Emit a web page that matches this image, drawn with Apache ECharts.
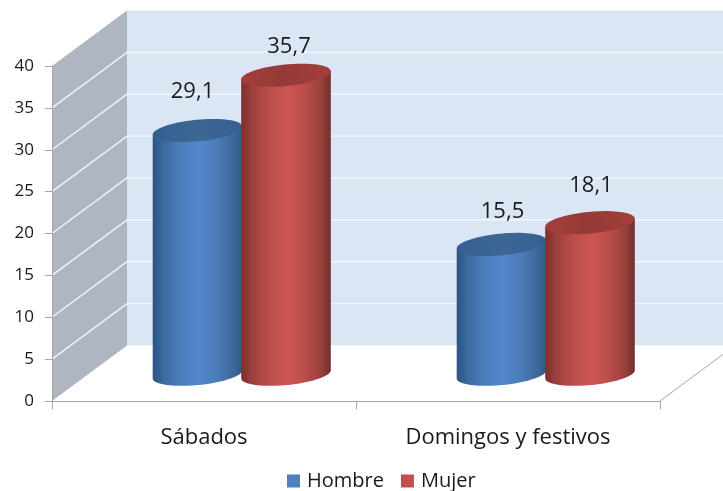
<!DOCTYPE html>
<html>
<head>
<meta charset="utf-8">
<style>html,body{margin:0;padding:0;background:#fff}#c{width:723px;height:491px}</style>
<script src="https://cdn.jsdelivr.net/npm/echarts@6/dist/echarts.min.js"></script>
</head>
<body>
<div id="c"></div>
<script>
const categories = ['Sábados', 'Domingos y festivos'];
const hombre = [29.1, 15.5];
const mujer = [35.7, 18.1];
const yTicks = [0, 5, 10, 15, 20, 25, 30, 35, 40];

const FONT = '"Open Sans", sans-serif';
const TEXT = '#1a1a1a';
const DEPTH_X = 75, DEPTH_Y = 55.5;      // projected depth of the 3D box
const RX = 45, RY = 10.8, TILT = 5.5 * Math.PI / 180;
const fmt = v => String(v).replace('.', ',');

function ellipsePt(cx, cy, t) {
  const c = Math.cos(t) * RX, s = Math.sin(t) * RY;
  return [cx + c * Math.cos(TILT) + s * Math.sin(TILT),
          cy - c * Math.sin(TILT) + s * Math.cos(TILT)];
}
function hGrad(stops) {
  return { type: 'linear', x: 0, y: 0, x2: 1, y2: 0, global: false,
    colorStops: stops.map(s => ({ offset: s[0], color: s[1] })) };
}

const palettes = {
  Hombre: {
    body: [[0, '#2a5482'], [0.12, '#3b6a9f'], [0.3, '#4a7cb8'], [0.52, '#5387cb'], [0.72, '#4a7cb6'], [0.9, '#3c6a9e'], [1, '#31598a']],
    top: [[0, '#34608f'], [0.5, '#3d6695'], [1, '#35608f']]
  },
  Mujer: {
    body: [[0, '#7c2f2d'], [0.12, '#9c403d'], [0.3, '#b94d4a'], [0.52, '#cd5552'], [0.72, '#ba4d4a'], [0.9, '#96403c'], [1, '#732d2b']],
    top: [[0, '#a33f3c'], [0.5, '#953a37'], [1, '#a33f3c']]
  }
};
// small per-label nudges, in pixels, relative to the top of each cylinder
const labelLift = { Hombre: [39, 33], Mujer: [29, 37] };
const labelShift = { Hombre: [-5, 1], Mujer: [3, 1] };
const seriesShift = { Hombre: -44, Mujer: 44.5 };

function cylinderSeries(name, values, color) {
  return {
    name, type: 'custom', coordinateSystem: 'cartesian2d', clip: false, z: 3,
    itemStyle: { color },
    encode: { x: 0, y: 1 },
    data: values.map((v, i) => [i, v]),
    renderItem(params, api) {
      const cat = api.value(0), val = api.value(1);
      const base = api.coord([cat, 0]), top = api.coord([cat, val]);
      const cx = base[0] + DEPTH_X / 2 + seriesShift[name];
      const by = base[1] - DEPTH_Y / 2 + 1, ty = top[1] - DEPTH_Y / 2 + 1;
      const pal = palettes[name];
      const bodyPts = [ellipsePt(cx, ty, Math.PI), ellipsePt(cx, ty, 0)];
      for (let k = 0; k <= 40; k++) bodyPts.push(ellipsePt(cx, by, Math.PI * k / 40));
      const topPts = [];
      for (let k = 0; k < 72; k++) topPts.push(ellipsePt(cx, ty, 2 * Math.PI * k / 72));
      const i = params.dataIndex;
      return {
        type: 'group',
        children: [
          { type: 'polygon', shape: { points: bodyPts }, style: { fill: hGrad(pal.body) } },
          { type: 'polygon', shape: { points: topPts }, style: { fill: hGrad(pal.top) } },
          { type: 'text', style: {
              text: fmt(val), x: cx + labelShift[name][i], y: ty - labelLift[name][i],
              align: 'center', verticalAlign: 'middle',
              font: '22px ' + FONT, fill: TEXT } }
        ]
      };
    }
  };
}

const wallSeries = {
  name: 'walls', type: 'custom', coordinateSystem: 'cartesian2d', clip: false, z: 1, silent: true,
  data: [[0, 0]],
  encode: { x: 0, y: 1 },
  renderItem(params, api) {
    const size = api.size([1, 0])[0];
    const x0 = api.coord([0, 0])[0] - size / 2;
    const x1 = x0 + size * categories.length;
    const y0 = api.coord([0, 0])[1];
    const yTop = api.coord([0, yTicks[yTicks.length - 1]])[1];
    const bx0 = x0 + DEPTH_X, bx1 = x1 + DEPTH_X;
    const children = [
      { type: 'polygon', shape: { points: [[bx0, yTop - DEPTH_Y], [bx1, yTop - DEPTH_Y], [bx1, y0 - DEPTH_Y], [bx0, y0 - DEPTH_Y]] },
        style: { fill: '#dbe6f5' } },
      { type: 'polygon', shape: { points: [[x0, yTop], [bx0, yTop - DEPTH_Y], [bx0, y0 - DEPTH_Y], [x0, y0]] },
        style: { fill: '#aeb6c1' } },
      { type: 'line', shape: { x1: x1, y1: y0, x2: bx1, y2: y0 - DEPTH_Y },
        style: { stroke: '#a6a6a6', lineWidth: 1 } }
    ];
    yTicks.slice(1, -1).forEach(t => {
      const y = api.coord([0, t])[1];
      children.push({ type: 'polyline',
        shape: { points: [[x0, y], [bx0, y - DEPTH_Y], [bx1, y - DEPTH_Y]] },
        style: { stroke: '#f4f7fb', lineWidth: 1.3, fill: null } });
    });
    return { type: 'group', children };
  }
};

const chart = echarts.init(document.getElementById('c'), null, { renderer: 'canvas' });
chart.setOption({
  animation: false,
  backgroundColor: '#fff',
  grid: { left: 52, right: 63, top: 66, bottom: 90, containLabel: false },
  legend: {
    data: ['Hombre', 'Mujer'],
    left: 282, top: 466,
    icon: 'rect', itemWidth: 13, itemHeight: 13, itemGap: 17,
    textStyle: { fontFamily: FONT, fontSize: 20, color: TEXT, padding: [0, 0, 0, 2] }
  },
  xAxis: {
    type: 'category', data: categories, z: 4,
    axisLine: { show: true, lineStyle: { color: '#a6a6a6', width: 1 } },
    axisTick: { show: true, length: 8, lineStyle: { color: '#a6a6a6' } },
    axisLabel: { fontFamily: FONT, fontSize: 22, color: TEXT, margin: 26 },
    splitLine: { show: false }
  },
  yAxis: {
    type: 'value', min: 0, max: 40, interval: 5, z: 4,
    axisLine: { show: true, lineStyle: { color: '#a6a6a6', width: 1 } },
    axisTick: { show: true, length: 7, lineStyle: { color: '#a6a6a6' } },
    axisLabel: { fontFamily: FONT, fontSize: 17, color: TEXT, margin: 18 },
    splitLine: { show: false }
  },
  series: [
    wallSeries,
    cylinderSeries('Hombre', hombre, '#4f81bd'),
    cylinderSeries('Mujer', mujer, '#c0504d')
  ]
});
</script>
</body>
</html>
